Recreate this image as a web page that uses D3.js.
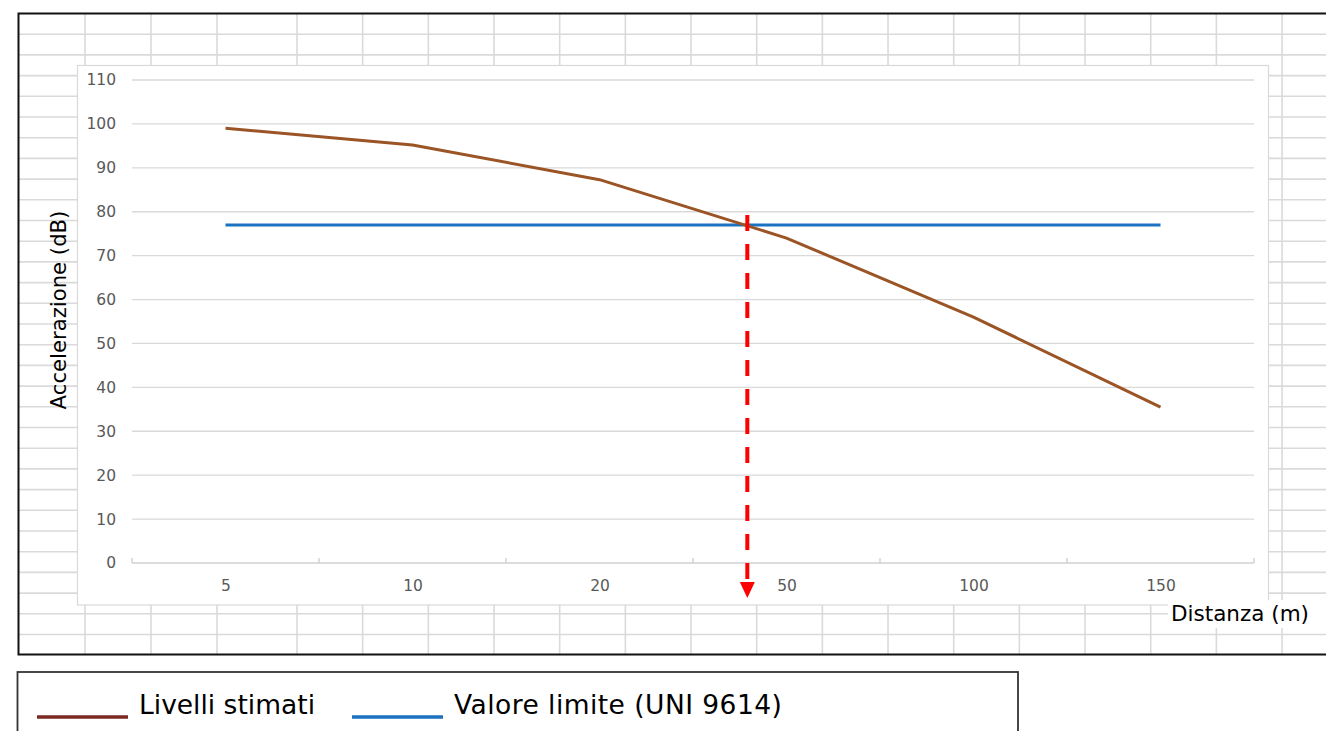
<!DOCTYPE html>
<html>
<head>
<meta charset="utf-8">
<script src="https://cdn.jsdelivr.net/npm/d3@7"></script>
<style>
  html, body { margin: 0; padding: 0; background: #ffffff; }
  svg { display: block; font-family: "DejaVu Sans", Verdana, sans-serif; }
</style>
</head>
<body>
<svg id="chart" width="1326" height="731"></svg>
<script>
// ---------- data ----------
const categories = ["5", "10", "20", "50", "100", "150"];
const livelliStimati = [99, 95.2, 87.3, 74, 56, 35.5];
const valoreLimite = [77, 77, 77, 77, 77, 77];
const yTickValues = [0, 10, 20, 30, 40, 50, 60, 70, 80, 90, 100, 110];
const seriesNames = ["Livelli stimati", "Valore limite (UNI 9614)"];
const yTitle = "Accelerazione (dB)";
const xTitle = "Distanza (m)";

// ---------- layout ----------
const W = 1326, H = 731;
const svg = d3.select("#chart");

// spreadsheet background grid
const sheet = { x0: 18.5, y0: 13.5, x1: 1340, y1: 654.5 };
const rowH = 20.7;
const colLines = [85, 151, 217];
for (let k = 0; k <= 15; k++) colLines.push(297 + 65.67 * k);

const gridG = svg.append("g");
const rows = d3.range(1, 31).map(k => sheet.y0 + rowH * k);
gridG.selectAll("line.row").data(rows).join("line")
  .attr("x1", sheet.x0).attr("x2", W).attr("y1", d => d).attr("y2", d => d)
  .attr("stroke", "#dadada").attr("stroke-width", 1.6);
gridG.selectAll("line.col").data(colLines).join("line")
  .attr("x1", d => d).attr("x2", d => d).attr("y1", sheet.y0).attr("y2", sheet.y1)
  .attr("stroke", "#dadada").attr("stroke-width", 1.6);
svg.append("rect")
  .attr("x", sheet.x0).attr("y", sheet.y0)
  .attr("width", sheet.x1 - sheet.x0).attr("height", sheet.y1 - sheet.y0)
  .attr("fill", "none").attr("stroke", "#111").attr("stroke-width", 2);

// chart area box
svg.append("rect")
  .attr("x", 77.5).attr("y", 65.5).attr("width", 1191).attr("height", 539.5)
  .attr("fill", "#ffffff").attr("stroke", "#d9d9d9").attr("stroke-width", 1.2);

// scales
const plot = { left: 132, right: 1254, top: 80, bottom: 563 };
const x = d3.scalePoint().domain(categories).range([plot.left, plot.right]).padding(0.5);
const y = d3.scaleLinear().domain([0, 110]).range([plot.bottom, plot.top]);
const step = x.step();

// horizontal gridlines
svg.append("g").selectAll("line").data(yTickValues.filter(v => v > 0)).join("line")
  .attr("x1", plot.left).attr("x2", plot.right)
  .attr("y1", d => y(d)).attr("y2", d => y(d))
  .attr("stroke", "#d9d9d9").attr("stroke-width", 1.3);

// y axis labels
const yAxis = d3.axisLeft(y).tickValues(yTickValues).tickSize(0).tickPadding(16);
const yG = svg.append("g").attr("transform", `translate(${plot.left},0)`).call(yAxis);
yG.select(".domain").remove();
yG.selectAll("text").attr("font-family", "DejaVu Sans").attr("font-size", 15.5)
  .attr("fill", "#595959");

// x axis line with inward ticks at category boundaries
svg.append("line")
  .attr("x1", plot.left).attr("x2", plot.right)
  .attr("y1", plot.bottom).attr("y2", plot.bottom)
  .attr("stroke", "#d0d0d0").attr("stroke-width", 1.4);
const boundaries = d3.range(categories.length + 1).map(i => plot.left + i * step);
svg.append("g").selectAll("line").data(boundaries).join("line")
  .attr("x1", d => d).attr("x2", d => d)
  .attr("y1", plot.bottom).attr("y2", plot.bottom - 5)
  .attr("stroke", "#d0d0d0").attr("stroke-width", 1.4);
const xAxis = d3.axisBottom(x).tickSize(0).tickPadding(17);
const xG = svg.append("g").attr("transform", `translate(0,${plot.bottom})`).call(xAxis);
xG.select(".domain").remove();
xG.selectAll("text").attr("font-family", "DejaVu Sans").attr("font-size", 15.5)
  .attr("fill", "#595959");

// series lines
const line = d3.line()
  .x((d, i) => x(categories[i]))
  .y(d => y(d));
svg.append("path").datum(valoreLimite)
  .attr("d", line)
  .attr("fill", "none").attr("stroke", "#1b72c0").attr("stroke-width", 3);
svg.append("path").datum(livelliStimati)
  .attr("d", line)
  .attr("fill", "none").attr("stroke", "#9b5425").attr("stroke-width", 3)
  .attr("stroke-linejoin", "round");

// red dashed arrow at the crossing point
let cross = 0;
for (let i = 0; i < livelliStimati.length - 1; i++) {
  const a = livelliStimati[i] - valoreLimite[i], b = livelliStimati[i + 1] - valoreLimite[i + 1];
  if (a >= 0 && b < 0) { cross = x(categories[i]) + (a / (a - b)) * step; break; }
}
cross += 3;
const arrowTop = y(valoreLimite[0]) - 10;
const arrowTip = plot.bottom + 35;
svg.append("line")
  .attr("x1", cross).attr("x2", cross)
  .attr("y1", arrowTop).attr("y2", arrowTip - 14)
  .attr("stroke", "#ff0000").attr("stroke-width", 4)
  .attr("stroke-dasharray", "16,13");
svg.append("path")
  .attr("d", `M${cross - 7.5},${arrowTip - 16} L${cross + 7.5},${arrowTip - 16} L${cross},${arrowTip} Z`)
  .attr("fill", "#ff0000");

// y axis title
svg.append("text")
  .attr("transform", `translate(66,310) rotate(-90)`)
  .attr("text-anchor", "middle")
  .attr("font-size", 21.2).attr("fill", "#000")
  .text(yTitle);

// x axis title with white background
svg.append("rect").attr("x", 1168).attr("y", 600).attr("width", 170).attr("height", 28)
  .attr("fill", "#ffffff");
svg.append("text")
  .attr("x", 1171).attr("y", 621)
  .attr("font-size", 21.5).attr("fill", "#000")
  .text(xTitle);

// legend box
svg.append("rect")
  .attr("x", 17.5).attr("y", 672).attr("width", 1000.5).attr("height", 80)
  .attr("fill", "#ffffff").attr("stroke", "#333").attr("stroke-width", 1.8);
const legendColors = ["#7b2a22", "#1b72c0"];
const legendX = [37, 352];
const legendG = svg.append("g").selectAll("g").data(seriesNames).join("g");
legendG.append("line")
  .attr("x1", (d, i) => legendX[i]).attr("x2", (d, i) => legendX[i] + 91)
  .attr("y1", 717).attr("y2", 717)
  .attr("stroke", (d, i) => legendColors[i]).attr("stroke-width", 3.5);
legendG.append("text")
  .attr("x", (d, i) => legendX[i] + 102).attr("y", 714)
  .attr("font-size", 26.5).attr("fill", "#000")
  .attr("letter-spacing", (d, i) => i === 1 ? 0.45 : 0)
  .text(d => d);
</script>
</body>
</html>
